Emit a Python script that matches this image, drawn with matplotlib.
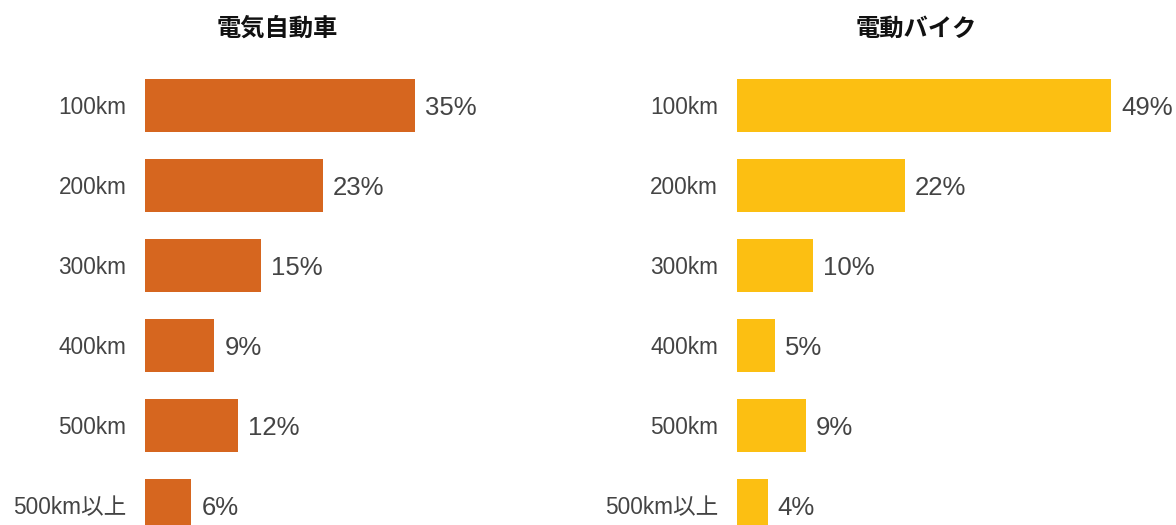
import matplotlib
matplotlib.use("Agg")
import matplotlib.pyplot as plt

plt.rcParams['font.family'] = ['Liberation Sans', 'Noto Sans CJK JP']

categories = ["100km", "200km", "300km", "400km", "500km", "500km以上"]
car_values = [35, 23, 15, 9, 12, 6]
bike_values = [49, 22, 10, 5, 9, 4]
titles = ["電気自動車", "電動バイク"]
colors = ["#D6661F", "#FCBF12"]

W, H = 1176, 525
fig = plt.figure(figsize=(W / 100, H / 100), dpi=100)

text_color = "#444444"

# axes placement in pixels: left edge, right edge, pixels per percent
panels = [(145, 545, 7.72), (737, 1160, 7.64)]
top_px = 60
# row centers sit at 105.5 + 80*i px; bottom of figure cuts the last bar
y_top = -(105.5 - top_px) / 80
y_bottom = (H - 105.5) / 80

for (x0, x1, scale), vals, title, color, tx in zip(
        panels, [car_values, bike_values], titles, colors, [277, 916]):
    ax = fig.add_axes([x0 / W, 0, (x1 - x0) / W, (H - top_px) / H])
    pos = list(range(len(categories)))
    ax.barh(pos, vals, height=0.67, color=color)
    ax.set_ylim(y_bottom, y_top)
    ax.set_xlim(0, (x1 - x0) / scale)
    ax.set_yticks(pos)
    ax.set_yticklabels(categories, fontsize=16.3, color=text_color)
    ax.tick_params(axis='y', length=0, pad=13.5)
    ax.set_xticks([])
    for s in ax.spines.values():
        s.set_visible(False)
    for p, v in zip(pos, vals):
        ax.annotate(f"{v}%", (v, p), xytext=(7.2, -1.5),
                    textcoords='offset points', ha='left', va='center',
                    fontsize=18.5, color=text_color)
    fig.text(tx / W, 1 - 29 / H, title, ha='center', va='center',
             fontsize=17.5, fontweight='bold', color='#111111')

fig.savefig("out.png", dpi=100)
